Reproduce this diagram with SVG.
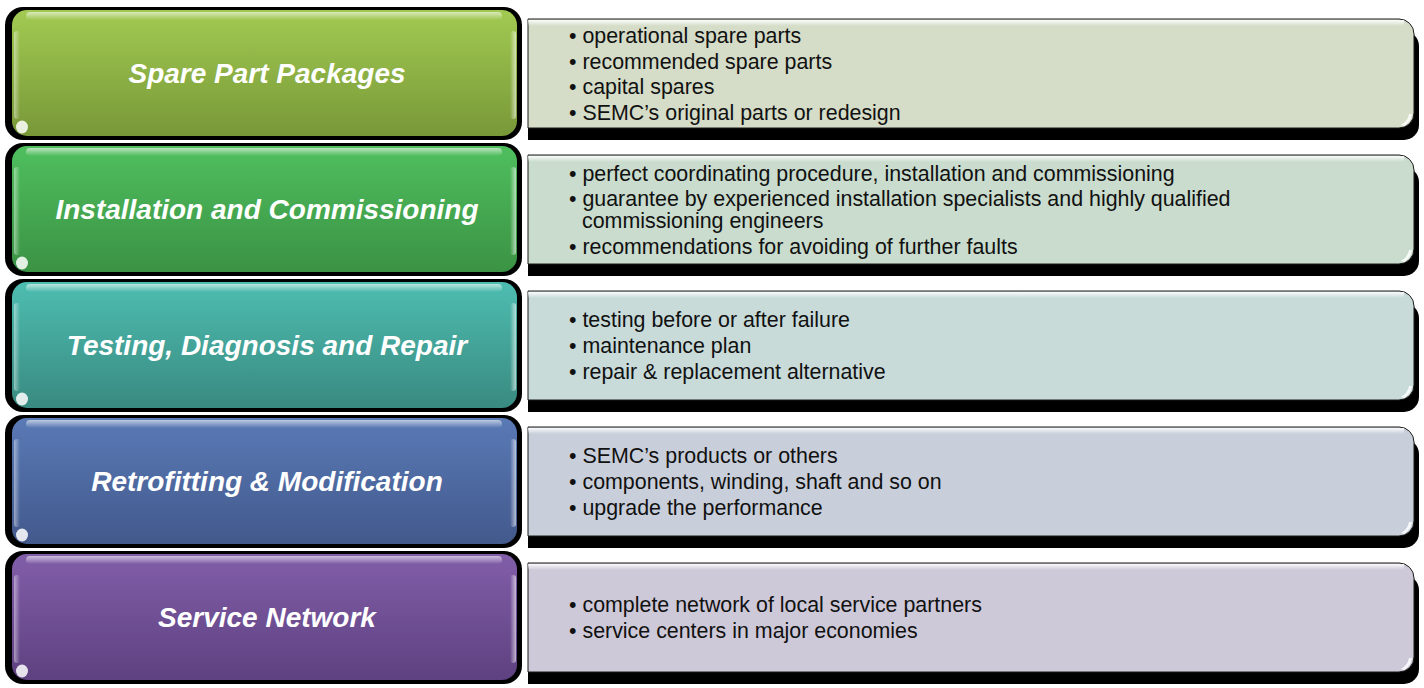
<svg xmlns="http://www.w3.org/2000/svg" width="1424" height="688" viewBox="0 0 1424 688">
  <style>
    .lbl { font-family: "Liberation Sans", Arial, sans-serif; font-size: 28px; font-weight: bold; font-style: italic; fill: #ffffff; text-anchor: middle; }
    .itm { font-family: "Liberation Sans", Arial, sans-serif; font-size: 21.4px; fill: #111111; }
    .edge { fill: #000000; }
    .panel { stroke: #1a1a1a; stroke-width: 1; }
    .glint { fill: #ffffff; opacity: 0.85; }
  </style>
  <defs>
    <linearGradient id="g1" x1="0" y1="0" x2="0" y2="1"><stop offset="0" stop-color="#a2ca52"/><stop offset="1" stop-color="#789838"/></linearGradient>
    <linearGradient id="g2" x1="0" y1="0" x2="0" y2="1"><stop offset="0" stop-color="#4fbf5e"/><stop offset="1" stop-color="#3b9244"/></linearGradient>
    <linearGradient id="g3" x1="0" y1="0" x2="0" y2="1"><stop offset="0" stop-color="#4ebdb1"/><stop offset="1" stop-color="#398a80"/></linearGradient>
    <linearGradient id="g4" x1="0" y1="0" x2="0" y2="1"><stop offset="0" stop-color="#5a7ab6"/><stop offset="1" stop-color="#42598c"/></linearGradient>
    <linearGradient id="g5" x1="0" y1="0" x2="0" y2="1"><stop offset="0" stop-color="#825ea9"/><stop offset="1" stop-color="#5e4180"/></linearGradient>
    <linearGradient id="topShine" x1="0" y1="0" x2="0" y2="1"><stop offset="0" stop-color="#ffffff" stop-opacity="0.6"/><stop offset="1" stop-color="#ffffff" stop-opacity="0"/></linearGradient>
    <linearGradient id="sideShine" x1="0" y1="0" x2="1" y2="0"><stop offset="0" stop-color="#ffffff" stop-opacity="0.45"/><stop offset="1" stop-color="#ffffff" stop-opacity="0"/></linearGradient>
    <linearGradient id="sideShineR" x1="1" y1="0" x2="0" y2="0"><stop offset="0" stop-color="#ffffff" stop-opacity="0.6"/><stop offset="1" stop-color="#ffffff" stop-opacity="0"/></linearGradient>
    <linearGradient id="panelTop" x1="0" y1="0" x2="0" y2="1"><stop offset="0" stop-color="#ffffff" stop-opacity="0.9"/><stop offset="1" stop-color="#ffffff" stop-opacity="0"/></linearGradient>

    <!-- glossy left tile, drawn at row origin -->
    <g id="tileGloss">
      <rect x="26" y="5" width="476" height="8" rx="4" fill="url(#topShine)"/>
      <rect x="14" y="24" width="6" height="88" rx="3" fill="url(#sideShine)"/>
      <rect x="510" y="24" width="6" height="88" rx="3" fill="url(#sideShineR)"/>
      <ellipse cx="22" cy="120" rx="6" ry="6.5" class="glint"/>
    </g>
    <!-- right panel, drawn at row origin (panel top = origin + 12) -->
    <path id="panelShadow" d="M528,24 H1404 A15,15 0 0 1 1419,39 V118 A15,15 0 0 1 1404,133 H528 Z"/>
    <path id="panelShape" d="M528,12 H1399 A15,15 0 0 1 1414,27 V106 A15,15 0 0 1 1399,121 H528 Z"/>
    <g id="panelGloss">
      <rect x="528" y="13" width="876" height="6" fill="url(#panelTop)"/>
      <path d="M1404,119 Q1411,115 1412,107 L1409,107 Q1408,114 1401,118 Z" class="glint"/>
    </g>
  </defs>

  <!-- row 1 -->
  <g id="spare-parts" transform="translate(0,7)">
    <rect class="edge" x="5" y="0" width="517" height="133" rx="18"/>
    <rect x="12" y="3" width="505" height="126" rx="15" fill="url(#g1)"/>
    <use href="#tileGloss"/>
    <text class="lbl" x="267" y="76">Spare Part Packages</text>
    <use href="#panelShadow" class="edge"/>
    <use href="#panelShape" class="panel" fill="#d5ddc8"/>
    <use href="#panelGloss"/>
    <text class="itm" x="569" y="36">• operational spare parts</text>
    <text class="itm" x="569" y="62">• recommended spare parts</text>
    <text class="itm" x="569" y="87">• capital spares</text>
    <text class="itm" x="569" y="113">• SEMC’s original parts or redesign</text>
  </g>

  <!-- row 2 -->
  <g id="installation" transform="translate(0,143)">
    <rect class="edge" x="5" y="0" width="517" height="133" rx="18"/>
    <rect x="12" y="3" width="505" height="126" rx="15" fill="url(#g2)"/>
    <use href="#tileGloss"/>
    <text class="lbl" x="267" y="76">Installation and Commissioning</text>
    <use href="#panelShadow" class="edge"/>
    <use href="#panelShape" class="panel" fill="#c9dccd"/>
    <use href="#panelGloss"/>
    <text class="itm" x="569" y="38">• perfect coordinating procedure, installation and commissioning</text>
    <text class="itm" x="569" y="63">• guarantee by experienced installation specialists and highly qualified</text>
    <text class="itm" x="582" y="85">commissioning engineers</text>
    <text class="itm" x="569" y="111">• recommendations for avoiding of further faults</text>
  </g>

  <!-- row 3 -->
  <g id="testing" transform="translate(0,279)">
    <rect class="edge" x="5" y="0" width="517" height="133" rx="18"/>
    <rect x="12" y="3" width="505" height="126" rx="15" fill="url(#g3)"/>
    <use href="#tileGloss"/>
    <text class="lbl" x="267" y="76">Testing, Diagnosis and Repair</text>
    <use href="#panelShadow" class="edge"/>
    <use href="#panelShape" class="panel" fill="#c8dbd9"/>
    <use href="#panelGloss"/>
    <text class="itm" x="569" y="48">• testing before or after failure</text>
    <text class="itm" x="569" y="74">• maintenance plan</text>
    <text class="itm" x="569" y="100">• repair &amp; replacement alternative</text>
  </g>

  <!-- row 4 -->
  <g id="retrofitting" transform="translate(0,415)">
    <rect class="edge" x="5" y="0" width="517" height="133" rx="18"/>
    <rect x="12" y="3" width="505" height="126" rx="15" fill="url(#g4)"/>
    <use href="#tileGloss"/>
    <text class="lbl" x="267" y="76">Retrofitting &amp; Modification</text>
    <use href="#panelShadow" class="edge"/>
    <use href="#panelShape" class="panel" fill="#c9cfda"/>
    <use href="#panelGloss"/>
    <text class="itm" x="569" y="48">• SEMC’s products or others</text>
    <text class="itm" x="569" y="74">• components, winding, shaft and so on</text>
    <text class="itm" x="569" y="100">• upgrade the performance</text>
  </g>

  <!-- row 5 -->
  <g id="service-network" transform="translate(0,551)">
    <rect class="edge" x="5" y="0" width="517" height="133" rx="18"/>
    <rect x="12" y="3" width="505" height="126" rx="15" fill="url(#g5)"/>
    <use href="#tileGloss"/>
    <text class="lbl" x="267" y="76">Service Network</text>
    <use href="#panelShadow" class="edge"/>
    <use href="#panelShape" class="panel" fill="#cec9d8"/>
    <use href="#panelGloss"/>
    <text class="itm" x="569" y="61">• complete network of local service partners</text>
    <text class="itm" x="569" y="87">• service centers in major economies</text>
  </g>

  <!-- no connectors between rows -->
  <g id="connectors"/>
</svg>
